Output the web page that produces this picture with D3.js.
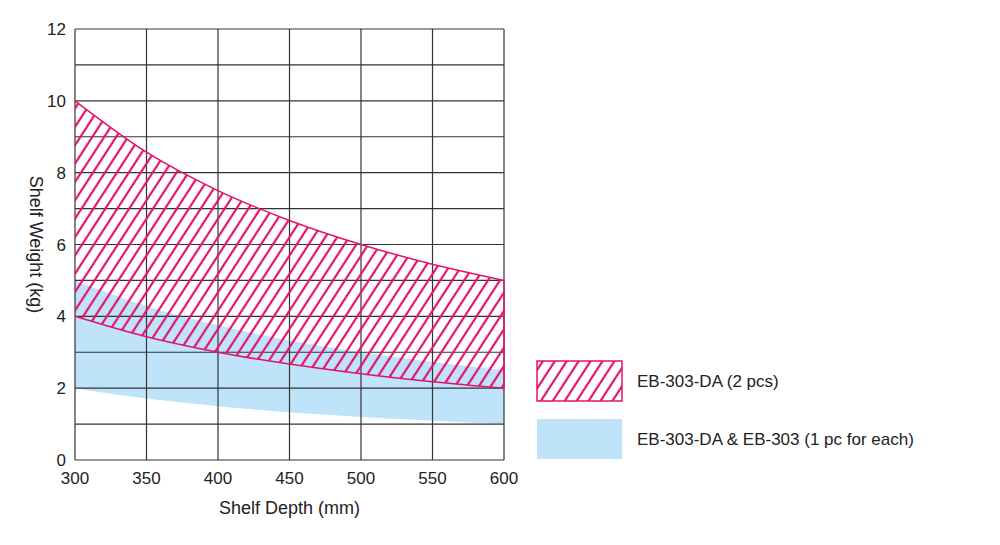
<!DOCTYPE html>
<html><head><meta charset="utf-8">
<script src="https://cdn.jsdelivr.net/npm/d3@7"></script>
<style>body{margin:0;background:#fff}text{font-family:"Liberation Sans",Arial,sans-serif;fill:#222}</style>
</head><body><svg id="c" width="1000" height="545"></svg>
<script>
const depths = [300, 350, 400, 450, 500, 550, 600];
const pinkUpper = [10, 8.57, 7.5, 6.67, 6.0, 5.45, 5.0];
const pinkLower = [4, 3.43, 3.0, 2.67, 2.4, 2.18, 2.0];
const blueUpper = [5, 4.29, 3.75, 3.33, 3.0, 2.73, 2.5];
const blueLower = [2, 1.71, 1.5, 1.33, 1.2, 1.09, 1.0];
const xTicks = [300, 350, 400, 450, 500, 550, 600];
const yTicks = [0, 2, 4, 6, 8, 10, 12];
const legendLabels = ["EB-303-DA (2 pcs)", "EB-303-DA & EB-303 (1 pc for each)"];

const svg = d3.select("#c");
const x = d3.scaleLinear().domain([300, 600]).range([75, 504]);
const y = d3.scaleLinear().domain([0, 12]).range([460, 29]);
const pink = "#e3126b", blue = "#bfe3f8";

const defs = svg.append("defs");
const pat = defs.append("pattern").attr("id", "hatch").attr("patternUnits", "userSpaceOnUse")
  .attr("width", 10).attr("height", 10).attr("patternTransform", "rotate(33)");
pat.append("line").attr("x1", 2).attr("x2", 2).attr("y1", 0).attr("y2", 10)
  .attr("stroke", pink).attr("stroke-width", 2.2);

const area = (up, lo) => d3.area().x((d, i) => x(depths[i])).y0((d, i) => y(lo[i])).y1((d, i) => y(up[i])).curve(d3.curveMonotoneX)(depths);
const line = arr => d3.line().x((d, i) => x(depths[i])).y((d, i) => y(arr[i])).curve(d3.curveMonotoneX)(depths);

svg.append("path").attr("d", area(blueUpper, blueLower)).attr("fill", blue);

const g = svg.append("g").attr("stroke", "#333").attr("stroke-width", 1.2);
for (let v = 0; v <= 12; v++) g.append("line").attr("x1", x(300)).attr("x2", x(600)).attr("y1", y(v)).attr("y2", y(v));
xTicks.forEach(v => g.append("line").attr("x1", x(v)).attr("x2", x(v)).attr("y1", y(0)).attr("y2", y(12)));

svg.append("path").attr("d", area(pinkUpper, pinkLower)).attr("fill", "url(#hatch)");
svg.append("path").attr("d", line(pinkUpper)).attr("fill", "none").attr("stroke", pink).attr("stroke-width", 1.5);
svg.append("path").attr("d", line(pinkLower)).attr("fill", "none").attr("stroke", pink).attr("stroke-width", 1.5);
svg.append("line").attr("x1", x(600)).attr("x2", x(600)).attr("y1", y(5)).attr("y2", y(2)).attr("stroke", pink).attr("stroke-width", 1.5);

xTicks.forEach(v => svg.append("text").attr("x", x(v)).attr("y", 484).attr("text-anchor", "middle").attr("font-size", 17).text(v));
yTicks.forEach(v => svg.append("text").attr("x", 66).attr("y", y(v) + 6).attr("text-anchor", "end").attr("font-size", 17).text(v));
svg.append("text").attr("x", x(450)).attr("y", 514).attr("text-anchor", "middle").attr("font-size", 18).text("Shelf Depth (mm)");
svg.append("text").attr("transform", `translate(30,${y(6)}) rotate(90)`).attr("text-anchor", "middle").attr("font-size", 18).text("Shelf Weight (kg)");

svg.append("rect").attr("x", 537).attr("y", 361).attr("width", 85).attr("height", 40).attr("fill", "url(#hatch)").attr("stroke", pink).attr("stroke-width", 1.5);
svg.append("rect").attr("x", 537).attr("y", 419).attr("width", 85).attr("height", 40).attr("fill", blue);
legendLabels.forEach((t, i) => svg.append("text").attr("x", 637).attr("y", 387 + i * 58).attr("font-size", 17).text(t));
</script></body></html>
